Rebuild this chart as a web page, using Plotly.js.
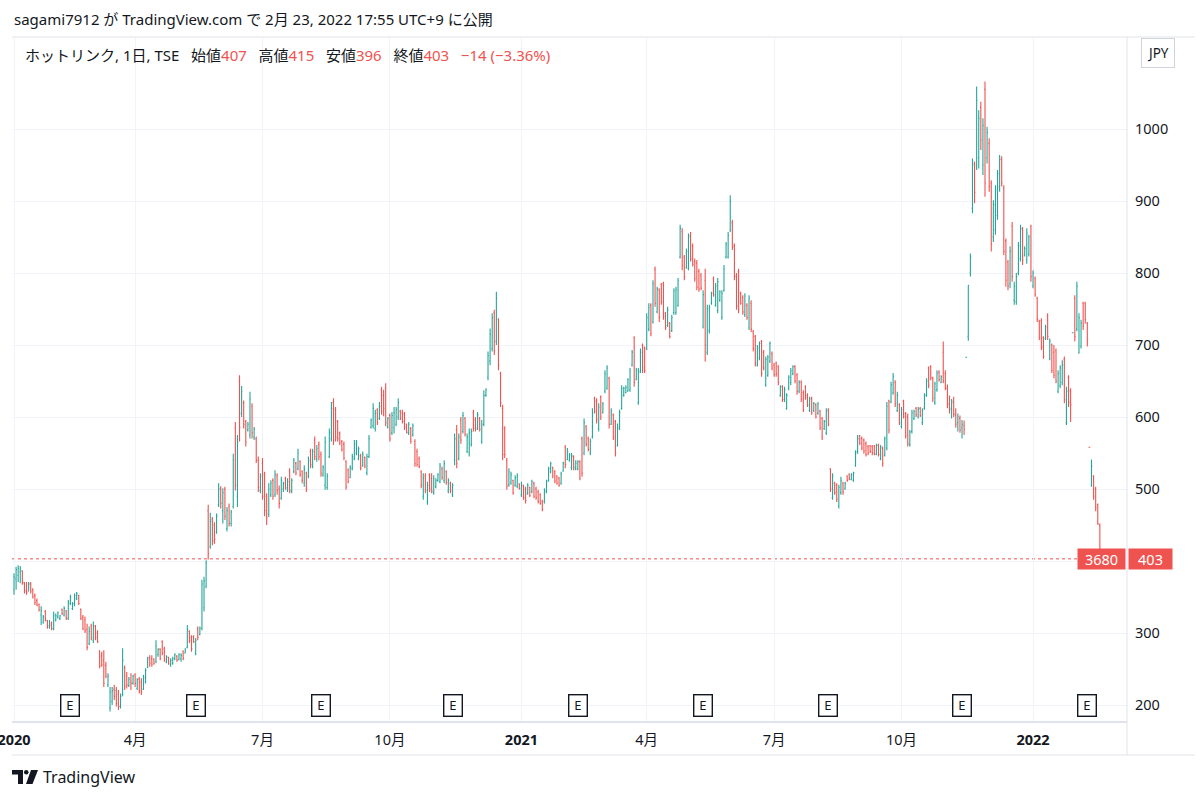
<!DOCTYPE html>
<html>
<head>
<meta charset="utf-8">
<script src="https://cdn.plot.ly/plotly-3.0.1.min.js"></script>
<style>
html,body{margin:0;padding:0;background:#ffffff;}
#chart{width:1200px;height:800px;}
</style>
</head>
<body>
<div id="chart"></div>
<script>
// ---------- data ----------
const firstTradingDay = '2020-01-06';
const holidays = [
  '2020-01-13','2020-02-11','2020-02-24','2020-03-20','2020-04-29','2020-05-04','2020-05-05','2020-05-06',
  '2020-07-23','2020-07-24','2020-08-10','2020-09-21','2020-09-22','2020-11-03','2020-11-23','2020-12-31',
  '2021-01-01','2021-01-11','2021-02-11','2021-02-23','2021-04-29','2021-05-03','2021-05-04','2021-05-05',
  '2021-07-22','2021-07-23','2021-08-09','2021-09-20','2021-09-23','2021-11-03','2021-11-23','2021-12-31',
  '2022-01-03','2022-01-10','2022-02-11'
];

const opens = [
360,375,380,385,386,370,360,358,368,360, 352,345,340,325,315,330,317,310,314,306,
318,322,320,333,325,331,320,341,334,340, 348,352,333,322,318,305,285,310,290,309,
300,275,268,262,255,228,196,205,222,220, 215,198,215,252,240,227,232,230,242,223,
236,232,222,232,252,266,264,264,260,270, 278,288,278,260,266,256,258,264,268,263,
264,274,272,280,302,294,295,272,306,298, 306,335,365,470,420,458,450,440,478,500,
470,500,445,476,452,476,585,490,650,605, 620,594,582,575,615,572,570,540,498,535,
520,490,465,492,512,492,518,500,487,500, 515,500,525,497,524,536,528,538,524,508,
522,518,552,532,568,542,562,548,520,505, 502,545,570,620,610,594,578,566,562,538,
526,516,528,542,550,542,546,532,544,522, 545,585,588,584,610,598,638,630,640,586,
602,578,585,590,600,608,606,604,590,578, 584,575,566,552,542,524,490,518,482,520,
515,495,503,512,510,528,512,524,497,508, 492,540,582,542,596,580,598,552,550,562,
606,596,585,598,566,590,630,655,678,695, 745,705,735,660,612,584,540,506,508,512,
505,504,507,492,504,500,494,502,496,508, 500,496,492,483,482,496,512,524,530,524,
518,515,508,525,558,541,540,530,545,528, 528,538,570,550,586,570,550,572,626,622,
584,628,606,636,640,654,590,603,594,560, 584,612,630,634,636,638,672,710,652,620,
664,700,696,695,722,755,732,805,746,776, 784,786,744,727,730,720,745,745,755,822,
858,822,808,806,852,838,816,814,802,796, 725,790,690,720,758,792,755,748,762,738,
776,822,822,860,870,838,796,802,772,766, 742,755,724,758,718,712,672,682,705,690,
645,658,678,688,672,675,670,630,642,624, 612,640,648,660,670,658,636,648,634,642,
630,609,626,609,617,605,608,598,584,578, 610,528,488,508,505,476,495,508,500,518,
520,513,512,533,552,574,570,568,563,559, 560,559,560,548,561,542,556,547,557,622,
621,634,648,609,617,587,622,605,600,561, 580,598,612,600,612,592,612,630,668,670,
654,620,638,662,648,690,660,640,618,612, 620,603,592,598,585,588,683,712,800,890,
952,950,960,1030,950,1055,960,980,925,850, 860,880,920,958,918,845,815,785,865,762,
760,800,820,860,825,818,826,865,782,792, 765,733,734,710,709,740,681,700,690,692,
636,644,648,680,592,655,636,717,765,722, 690,698,758,758,730,558,506,518,500,478,
450,407
];
const highs = [
383,392,394,393,387,371,371,371,371,362, 355,348,341,337,325,332,318,318,316,330,
327,330,325,334,337,332,346,353,343,355, 357,353,334,325,323,313,309,313,316,311,
304,276,274,276,260,244,225,225,228,225, 221,216,279,255,246,239,244,242,244,237,
239,237,242,251,267,269,269,265,290,279, 279,290,281,269,267,265,267,272,269,272,
272,276,279,311,304,297,297,293,309,309, 374,378,401,478,467,461,454,466,508,504,
501,503,475,480,471,549,593,575,658,643, 623,596,593,635,619,586,573,545,522,543,
524,494,508,512,515,526,522,505,517,510, 517,515,529,515,543,538,556,540,526,533,
524,545,556,556,573,561,566,552,533,573, 522,584,621,626,614,596,580,568,566,540,
529,533,549,568,568,559,549,552,545,549, 575,598,619,610,612,621,642,638,647,600,
605,607,614,614,626,610,610,607,591,593, 586,591,569,556,545,526,522,522,510,522,
522,519,515,522,536,531,540,526,515,510, 508,577,589,577,600,607,600,577,584,584,
610,600,607,600,596,637,640,691,723,744, 749,774,737,663,617,587,543,529,524,513,
519,522,508,510,506,503,508,503,513,510, 503,499,494,485,501,513,531,538,531,526,
519,517,524,538,561,557,550,550,547,540, 540,540,573,598,589,573,570,612,628,626,
619,630,621,665,672,656,612,605,596,591, 610,644,642,644,654,668,693,712,668,668,
695,702,698,744,758,758,790,809,781,779, 786,788,746,753,732,742,779,781,793,867,
862,825,834,855,857,841,820,818,806,800, 776,806,756,756,774,795,786,793,776,776,
811,843,857,908,874,841,800,806,774,769, 772,758,769,762,721,714,700,705,707,693,
684,686,705,691,675,677,672,644,644,642, 633,658,668,672,672,661,651,651,637,644,
633,628,628,621,619,621,610,600,596,612, 612,529,522,510,508,506,517,510,510,519,
522,522,524,554,575,575,573,570,566,561, 561,561,561,563,563,561,559,573,621,624,
649,661,651,635,619,614,624,607,605,582, 610,610,614,614,614,612,633,654,670,672,
656,649,665,665,658,705,665,645,630,625, 628,612,605,602,596,595,683,783,827,959,
955,1059,1026,1038,1015,1066,1003,987,929,901, 922,943,964,962,922,848,818,837,871,788,
800,843,867,864,837,862,853,867,804,795, 767,735,737,712,728,744,709,702,700,695,
665,672,679,684,642,658,640,717,769,788, 744,735,760,760,732,558,541,519,503,480,
452,415
];
const lows = [
353,360,371,369,367,355,353,358,355,348, 339,337,330,311,313,316,306,306,304,304,
316,320,318,325,323,318,318,339,332,337, 346,339,318,304,300,276,283,290,286,290,
286,251,253,225,237,225,191,200,207,198, 193,195,212,221,223,225,221,228,225,221,
216,214,221,230,251,253,253,256,258,267, 262,269,260,258,256,253,256,262,260,262,
260,262,272,279,286,274,286,269,290,297, 304,330,362,402,417,422,424,438,475,473,
452,457,441,448,448,473,498,475,566,600, 584,559,580,570,570,568,536,496,494,485,
462,450,461,489,485,489,492,473,485,496, 499,496,494,494,522,519,526,517,508,503,
496,515,529,529,540,538,540,517,517,499, 499,543,566,561,566,566,561,552,540,499,
508,515,526,540,547,540,526,531,529,519, 543,584,584,580,589,596,603,601,587,584,
566,575,577,587,596,596,591,582,577,575, 563,573,531,531,529,501,485,494,478,496,
494,492,501,510,508,513,508,506,494,494, 489,533,529,540,563,577,573,550,545,559,
580,580,582,580,563,587,628,651,672,691, 686,700,665,614,540,543,499,503,506,492,
503,501,499,489,485,480,492,489,494,487, 485,480,478,469,480,494,510,522,515,508,
506,503,506,524,529,540,538,526,526,526, 526,512,517,547,559,552,547,570,605,591,
580,596,605,633,638,584,589,568,545,559, 582,610,628,633,635,635,670,642,651,617,
661,661,661,693,719,712,730,753,744,732, 756,735,721,725,709,718,742,742,753,820,
804,790,806,804,816,809,788,776,774,776, 723,677,686,716,756,767,753,744,760,735,
774,820,820,857,832,790,749,744,756,742, 739,735,721,718,691,670,670,679,656,665,
642,656,675,665,656,656,644,628,621,621, 610,637,644,658,647,631,633,621,607,624,
614,607,603,607,598,603,582,568,582,575, 587,496,485,492,482,473,492,492,499,510,
512,512,510,531,549,561,554,549,545,547, 550,547,547,547,545,540,531,545,554,577,
619,631,614,607,589,584,598,570,559,559, 577,596,600,598,600,589,610,628,640,651,
621,617,635,649,647,647,637,612,605,598, 600,585,580,578,570,575,683,706,795,883,
897,943,945,971,936,906,952,913,830,843, 853,874,913,920,825,781,776,779,788,756,
756,797,816,811,823,813,823,788,779,767, 732,707,693,681,707,707,679,661,654,647,
633,640,644,619,589,614,593,717,705,719, 688,695,721,730,698,558,503,485,469,450,
416,396
];
const closes = [
378,388,390,389,370,358,356,368,358,350, 342,339,332,331,322,318,308,311,306,325,
324,328,324,327,334,321,343,350,341,352, 355,341,320,306,303,280,302,293,310,294,
288,254,256,230,240,240,218,220,212,202, 198,212,262,226,228,236,230,240,230,235,
220,218,238,248,264,258,256,258,282,277, 265,272,263,267,258,262,265,270,262,270,
269,265,278,305,290,278,288,290,294,307, 368,372,398,410,455,428,430,462,500,480,
495,462,470,452,468,540,505,565,585,635, 590,565,590,625,578,583,540,502,518,490,
470,460,500,508,490,520,498,480,512,508, 502,510,498,512,540,522,550,520,512,528,
500,540,534,552,545,556,545,522,530,565, 518,578,612,568,572,570,564,555,543,503,
510,530,545,563,565,556,529,548,532,545, 570,596,612,605,592,615,608,612,592,598,
570,602,606,610,620,598,594,586,579,590, 566,588,535,534,531,505,515,498,505,500,
497,515,512,520,532,516,535,509,512,497, 505,570,535,572,568,602,576,572,578,580,
584,583,603,583,590,630,638,685,715,738, 692,765,672,620,548,548,504,524,520,495,
516,518,501,506,488,484,505,491,510,490, 488,483,480,472,498,510,528,535,518,511,
508,505,521,536,534,552,547,546,530,536, 538,515,522,592,562,555,566,606,608,596,
614,600,618,660,668,590,608,572,550,586, 606,640,640,641,652,664,690,648,665,662,
690,668,665,738,752,716,785,758,778,738, 760,740,724,749,712,738,775,777,790,862,
810,795,830,850,820,812,792,780,778,779, 770,700,750,752,772,770,782,788,774,772,
806,840,852,900,836,795,754,750,758,746, 768,738,765,722,695,675,696,702,660,668,
680,683,702,668,659,660,648,642,624,638, 630,655,664,670,650,635,648,625,610,627,
617,625,606,619,600,618,585,572,594,608, 590,500,518,495,486,502,512,496,508,512,
514,520,522,550,570,564,557,553,548,550, 552,550,549,560,548,558,535,570,615,582,
645,656,618,630,592,610,601,574,563,579, 606,608,603,611,602,609,630,650,644,655,
626,646,661,652,656,650,640,618,610,622, 604,590,600,582,590,583,683,783,822,950,
912,1040,1015,985,1005,925,995,920,840,895, 915,938,958,925,830,790,782,830,795,782,
795,838,862,818,834,855,850,795,800,770, 736,710,697,684,725,712,705,665,658,650,
660,668,672,624,636,620,617,717,712,782, 738,730,726,735,708,558,532,490,474,452,
417,403
];

const tickDates  = ['2020-01-06','2020-04-01','2020-07-01','2020-10-01','2021-01-04','2021-04-01','2021-07-01','2021-10-01','2022-01-04'];
const tickLabels = ['<b>2020</b>','4月','7月','10月','<b>2021</b>','4月','7月','10月','<b>2022</b>'];
const priceTicks = [200,300,400,500,600,700,800,900,1000];
const earningsDates = ['2020-02-14','2020-05-18','2020-08-13','2020-11-13','2021-02-12','2021-05-14','2021-08-11','2021-11-12','2022-02-10'];

const headerText = 'sagami7912 が TradingView.com で 2月 23, 2022 17:55 UTC+9 に公開';
const symbolName = 'ホットリンク, 1日, TSE';
const symbolCode = '3680';
const currency = 'JPY';
const lastOpen = 407, lastHigh = 415, lastLow = 396, lastClose = 403;
const changeText = '−14 (−3.36%)';

// ---------- build ----------
function tradingDays(start, count, hol) {
  const hs = new Set(hol);
  const out = [];
  const d = new Date(start + 'T00:00:00Z');
  while (out.length < count) {
    const w = d.getUTCDay();
    const s = d.toISOString().slice(0, 10);
    if (w !== 0 && w !== 6 && !hs.has(s)) out.push(s);
    d.setUTCDate(d.getUTCDate() + 1);
  }
  return out;
}
const n = Math.min(opens.length, highs.length, lows.length, closes.length);
const dates = tradingDays(firstTradingDay, n, holidays);

const UP = '#26a69a', DOWN = '#ef5350', TXT = '#131722', GRID = '#f0f3fa', BORDER = '#e0e3eb';
const FONT = 'Noto Sans, Noto Sans CJK JP, sans-serif';

// pixel -> paper helpers (layout only)
const L = 12, R = 1127, T = 37, B = 722;
const X = px => (px - L) / (R - L);
const Y = py => (B - py) / (B - T);

const trace = {
  type: 'ohlc',
  x: dates,
  open: opens.slice(0, n), high: highs.slice(0, n), low: lows.slice(0, n), close: closes.slice(0, n),
  increasing: {line: {color: UP, width: 1.1}},
  decreasing: {line: {color: DOWN, width: 1.1}},
  tickwidth: 0.42,
  hoverinfo: 'skip'
};

const red = s => `<span style="color:${DOWN}">${s}</span>`;
const sp = '\u00a0\u00a0\u00a0';
const legendText = symbolName + sp + '始値' + red(lastOpen) + sp + '高値' + red(lastHigh) + sp +
  '安値' + red(lastLow) + sp + '終値' + red(lastClose) + sp + red(changeText);

// the 400 label sits under the last-price box in the reference
const priceTickText = priceTicks.map(v => v === 400 ? '' : String(v));

const annotations = [
  {xref:'paper', yref:'paper', x: X(12), y: Y(19), xanchor:'left', yanchor:'middle', showarrow:false,
   text: headerText, font:{family:FONT, size:15, color:TXT}},
  {xref:'paper', yref:'paper', x: X(23), y: Y(55), xanchor:'left', yanchor:'middle', showarrow:false,
   text: legendText, font:{family:FONT, size:15, color:TXT}},
  {xref:'paper', yref:'paper', x: X(1158), y: Y(53), xanchor:'center', yanchor:'middle', showarrow:false,
   text: currency, font:{family:FONT, size:13.5, color:TXT}, bordercolor:'#d1d4dc', borderwidth:1, borderpad:5, bgcolor:'#ffffff'},
  {xref:'paper', yref:'y', x: X(1101.5), y: lastClose, xanchor:'center', yanchor:'middle', showarrow:false,
   text: symbolCode, font:{family:FONT, size:14.5, color:'#ffffff'}, bgcolor:DOWN, width:41, height:14, borderpad:3},
  {xref:'paper', yref:'y', x: X(1150.5), y: lastClose, xanchor:'center', yanchor:'middle', showarrow:false,
   text: String(lastClose), font:{family:FONT, size:14.5, color:'#ffffff'}, bgcolor:DOWN, width:37, height:14, borderpad:3},
  {xref:'paper', yref:'paper', x: X(41), y: Y(777), xanchor:'left', yanchor:'middle', showarrow:false,
   text: 'TradingView', font:{family:FONT, size:16, color:TXT}}
];
earningsDates.forEach(d => {
  annotations.push({xref:'x', yref:'paper', x: d, y: Y(705), xanchor:'center', yanchor:'middle', showarrow:false,
    text:'E', font:{family:FONT, size:13, color:TXT}, bordercolor:TXT, borderwidth:1.4, borderpad:2,
    bgcolor:'#ffffff', width:13, height:16});
});

const shapes = [
  {type:'line', xref:'paper', yref:'y', x0:0, x1:X(1078), y0:lastClose, y1:lastClose, line:{color:DOWN, width:1, dash:'dot'}, layer:'below'},
  {type:'line', xref:'paper', yref:'paper', x0:X(12), x1:X(1195), y0:Y(37), y1:Y(37), line:{color:BORDER, width:1}},
  {type:'line', xref:'paper', yref:'paper', x0:X(12), x1:X(1127), y0:Y(722), y1:Y(722), line:{color:BORDER, width:2}},
  {type:'line', xref:'paper', yref:'paper', x0:X(12), x1:X(1195), y0:Y(755), y1:Y(755), line:{color:BORDER, width:1}},
  {type:'line', xref:'paper', yref:'paper', x0:X(1127), x1:X(1127), y0:Y(37), y1:Y(755), line:{color:BORDER, width:1}},
  // TradingView logo
  {type:'path', xref:'paper', yref:'paper', fillcolor:TXT, line:{width:0},
   path:`M${X(12)},${Y(770)} L${X(23)},${Y(770)} L${X(23)},${Y(784)} L${X(18)},${Y(784)} L${X(18)},${Y(774.5)} L${X(12)},${Y(774.5)} Z`},
  {type:'circle', xref:'paper', yref:'paper', fillcolor:TXT, line:{width:0},
   x0:X(24), x1:X(28.5), y0:Y(774.5), y1:Y(770)},
  {type:'path', xref:'paper', yref:'paper', fillcolor:TXT, line:{width:0},
   path:`M${X(31)},${Y(770)} L${X(38)},${Y(770)} L${X(32.5)},${Y(784)} L${X(26)},${Y(784)} Z`}
];

const layout = {
  width:1200, height:800,
  margin:{l:L, r:1200-R, t:T, b:800-B, pad:0},
  paper_bgcolor:'#ffffff', plot_bgcolor:'#ffffff',
  showlegend:false,
  font:{family:FONT, size:13, color:TXT},
  xaxis:{
    type:'category', range:[-0.96, 533], rangeslider:{visible:false},
    tickmode:'array', tickvals:tickDates, ticktext:tickLabels,
    showgrid:true, gridcolor:GRID, gridwidth:1, ticks:'', showline:false, zeroline:false,
    ticklabelstandoff:7, tickfont:{family:FONT, size:14.5, color:TXT}, fixedrange:true
  },
  yaxis:{
    side:'right', range:[176.4, 1127.8], tickmode:'array', tickvals:priceTicks, ticktext:priceTickText,
    showgrid:true, gridcolor:GRID, gridwidth:1, ticks:'', showline:false, zeroline:false,
    ticklabelstandoff:7, tickfont:{family:FONT, size:14.5, color:TXT}, fixedrange:true
  },
  shapes:shapes,
  annotations:annotations
};

Plotly.newPlot('chart', [trace], layout, {staticPlot:true, displayModeBar:false});
</script>
</body>
</html>
